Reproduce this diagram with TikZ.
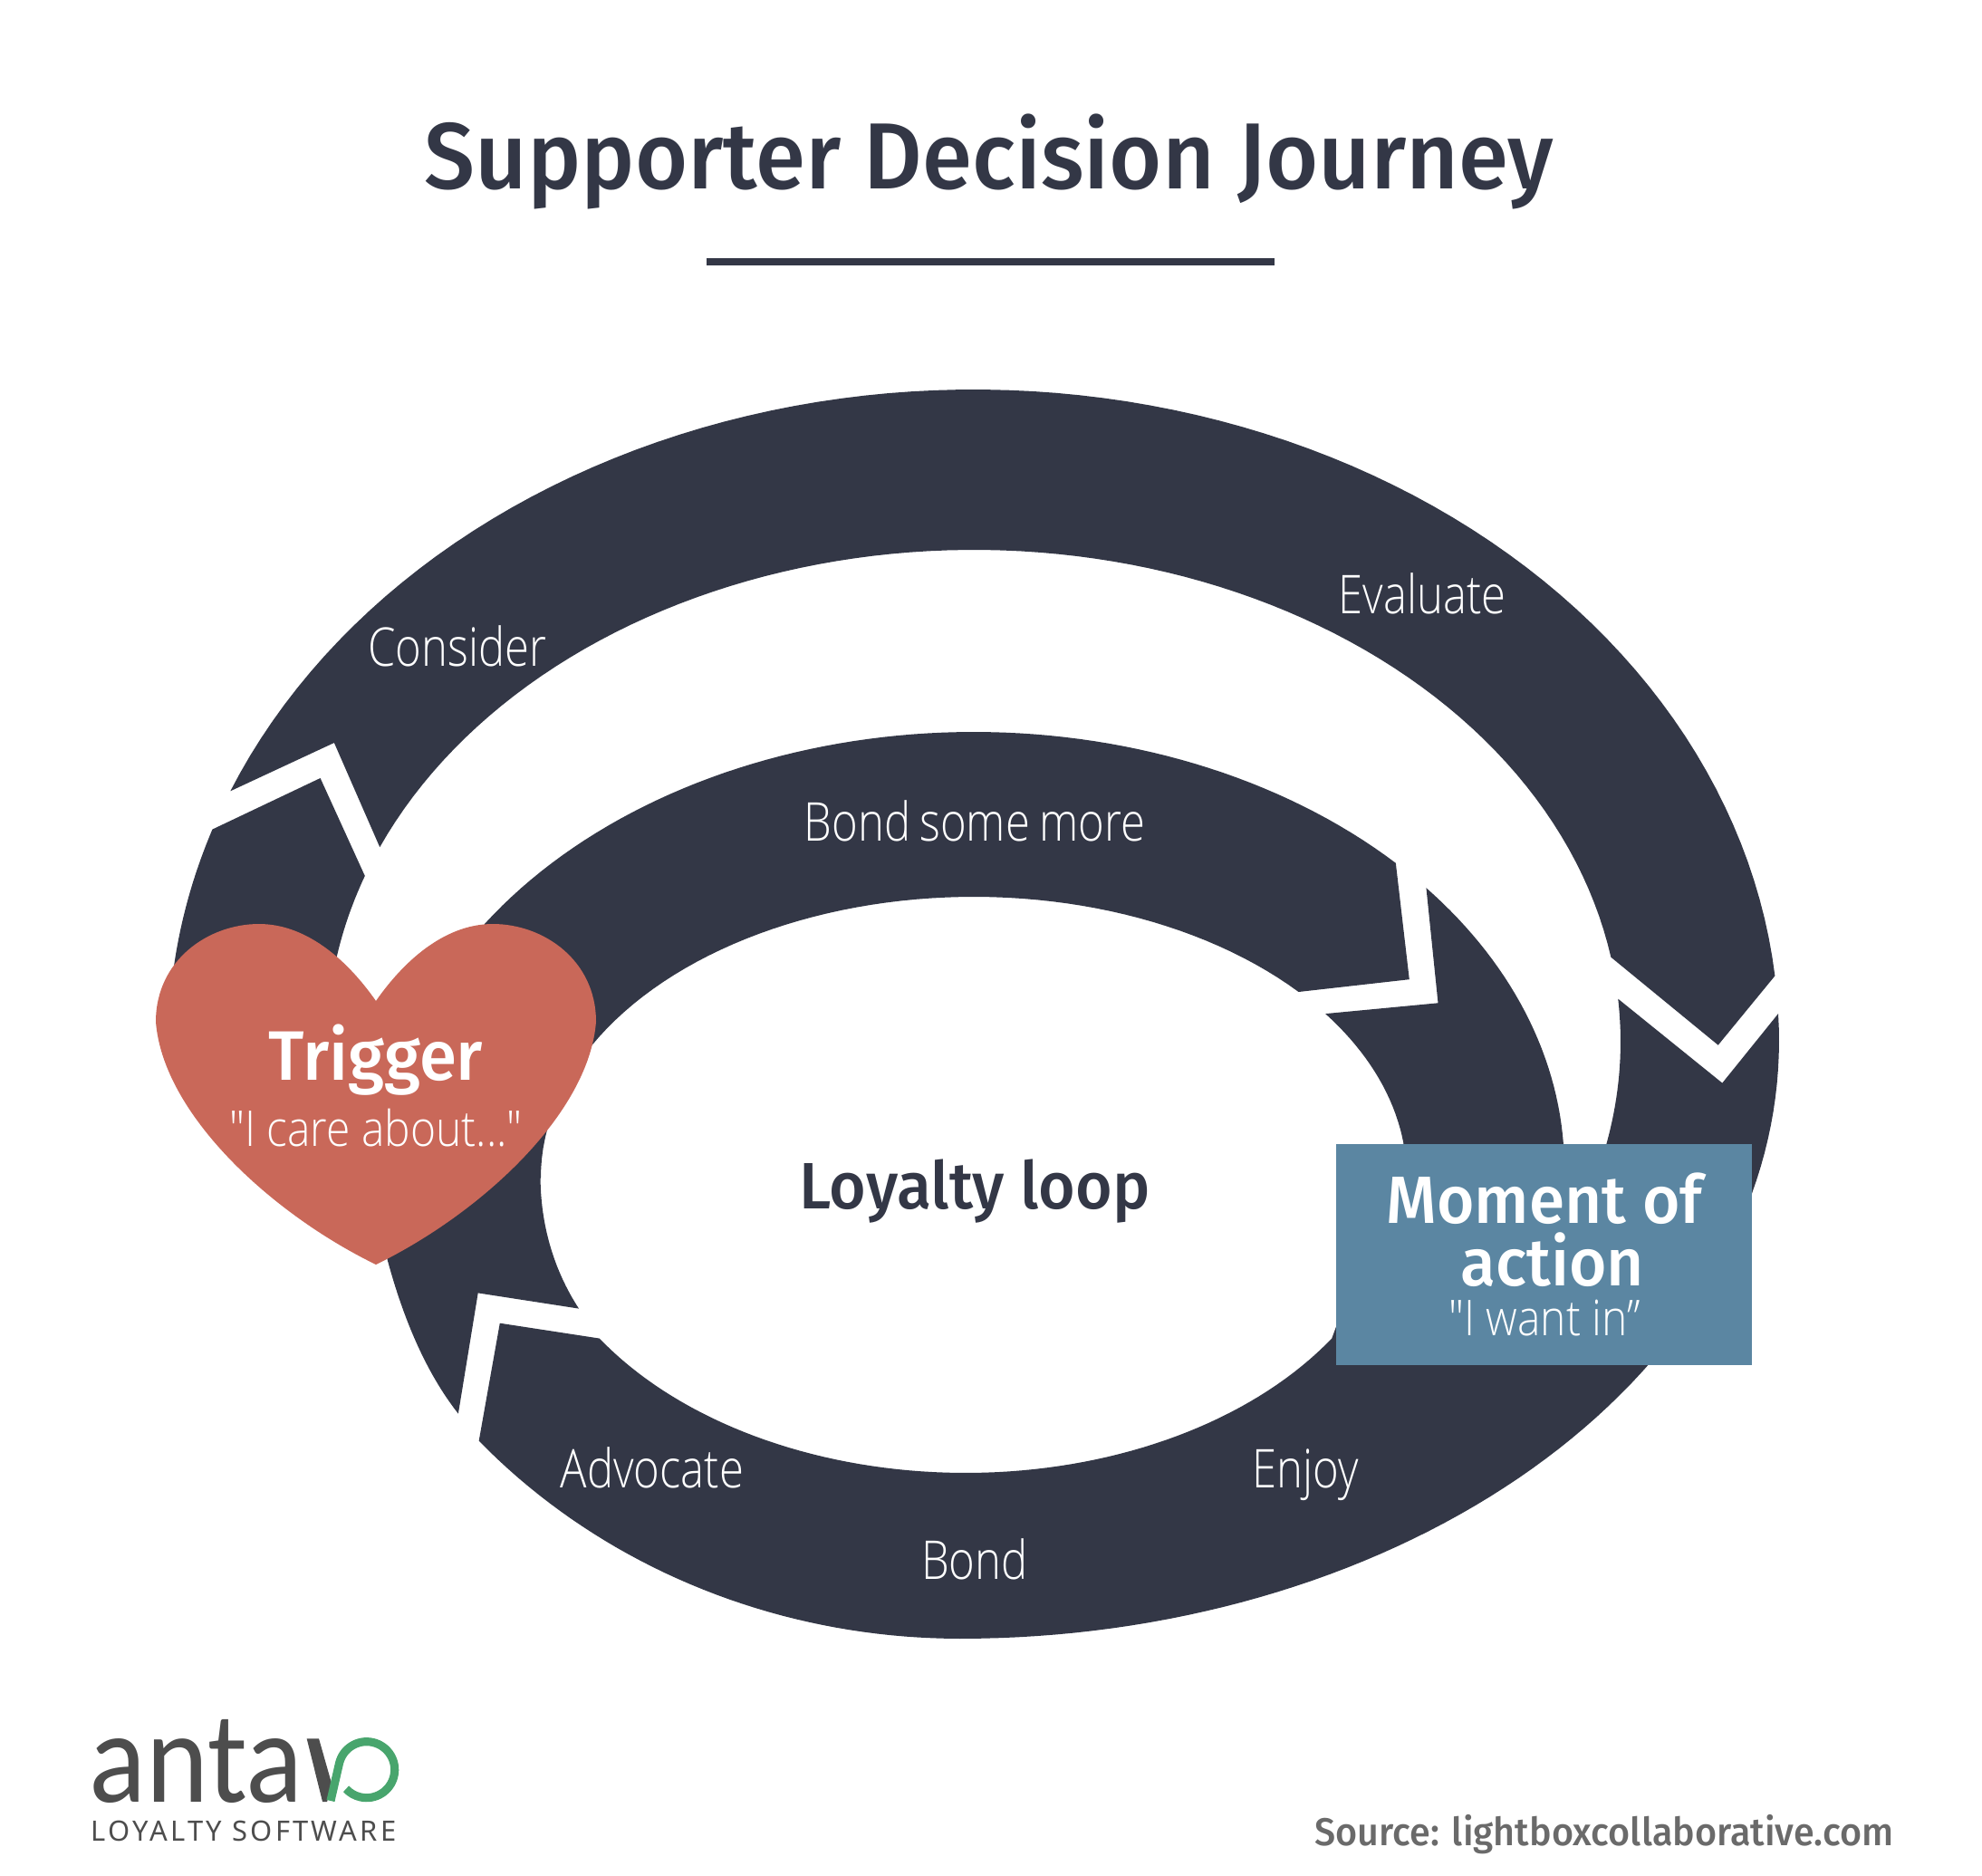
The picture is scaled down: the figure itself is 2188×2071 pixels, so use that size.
\documentclass[tikz,border=0pt]{standalone}
\usepackage{fontspec}
\setmainfont{Liberation Sans}
\newfontfamily\headfont[FakeStretch=0.963]{Fira Sans Medium}
\newfontfamily\condfont[FakeStretch=0.83,WordSpace=0.8]{Open Sans Light}
\newfontfamily\thinfont[FakeStretch=0.88]{Open Sans Light}
\newfontfamily\logofont[FakeStretch=0.91]{Carlito}
\newfontfamily\tagfont[LetterSpace=10.5]{Noto Sans}

\definecolor{bandcol}{HTML}{333746}
\definecolor{heartcol}{HTML}{C96859}
\definecolor{boxcol}{HTML}{5B86A2}
\definecolor{logogrey}{HTML}{4D4D4D}
\definecolor{logogreen}{HTML}{48A56D}
\definecolor{sourcegrey}{HTML}{6A6A6A}

\tikzset{
  band/.style={fill=bandcol},
  steplabel/.style={anchor=base,inner sep=0pt,text=white,font=\condfont\fontsize{16.8}{20}\selectfont},
  headlabel/.style={anchor=base,inner sep=0pt,text=white,font=\headfont\fontsize{21}{25}\selectfont},
  quotelabel/.style={anchor=base,inner sep=0pt,text=white,font=\thinfont\fontsize{15.5}{19}\selectfont},
}

\begin{document}
\begin{tikzpicture}[x=0.1mm,y=-0.1mm]
  \useasboundingbox (0,0) rectangle (2188,2071);

  % title
  \node[anchor=base,inner sep=0pt,text=bandcol,font=\headfont\fontsize{29.5}{34}\selectfont] (title) at (1092,209) {Supporter Decision Journey};
  \coordinate (ruleL) at (780,289);
  \coordinate (ruleR) at (1407,289);
  \draw[bandcol,line width=2.2pt] (ruleL) -- (ruleR);

  % upper band
  \fill[band] plot[domain=202.6:354.2,samples=90] ({1075+889*cos(\x)},{1150+720*sin(\x)})
    -- (1896.7,1153.7)
    -- plot[domain=350.1:203.3,samples=90] ({1075+714*cos(\x)},{1150+543*sin(\x)})
    -- (368.9,820) -- cycle;
  % piece left of the heart
  \fill[band] (353.6,859)
    -- plot[domain=199.7:187,samples=20] ({1075+714*cos(\x)},{1150+543*sin(\x)})
    -- (360,1100) -- (200,1100)
    -- plot[domain=183:199,samples=30] ({1075+889*cos(\x)},{1150+720*sin(\x)})
    -- cycle;
  % inner band
  \fill[band] (639,1444.6) .. controls (610,1400) and (597,1350) .. (596.6,1301)
    -- plot[domain=180:318.6,samples=70] ({1075+478*cos(\x)},{1300+310*sin(\x)})
    -- (1555.8,1081.2)
    -- plot[domain=315.6:214.1,samples=70] ({1075+652*cos(\x)},{1290+482*sin(\x)})
    -- (450,1200) -- (427.5,1390)
    .. controls (445,1455) and (470,1515) .. (505.9,1560.6)
    -- (527.7,1427.4) -- cycle;
  % lower band
  \fill[band] plot[domain=320:356.7,samples=30] ({1075+652*cos(\x)},{1290+482*sin(\x)})
    -- (1750,1380)
    -- plot[domain=12:-5,samples=20] ({1075+714*cos(\x)},{1150+543*sin(\x)})
    -- (1901.3,1195.6)
    -- plot[domain=-2.6:90,samples=70] ({1060+904*cos(\x)},{1149+660*sin(\x)})
    -- plot[domain=90:138,samples=40] ({1060+715*cos(\x)},{1149+660*sin(\x)})
    -- (551.8,1460.7)
    -- plot[domain=147:33,samples=70] ({1066+482*cos(\x)},{1300+326*sin(\x)})
    -- plot[domain=-7:-35.7,samples=20] ({1075+478*cos(\x)},{1300+310*sin(\x)})
    -- (1587.5,1107.3) -- cycle;

  % heart
  \fill[heartcol] (415,1105) .. controls (450,1055) and (495,1020) .. (544,1020)
    .. controls (600,1020) and (658,1060) .. (658,1128)
    .. controls (650,1230) and (530,1340) .. (415,1396)
    .. controls (300,1340) and (180,1230) .. (172,1128)
    .. controls (172,1060) and (230,1020) .. (286,1020)
    .. controls (335,1020) and (380,1055) .. (415,1105) -- cycle;
  \node[headlabel,font=\headfont\fontsize{22}{26}\selectfont] (trigger) at (415,1192) {Trigger};
  \node[quotelabel] (care) at (415,1265) {"I care about..."};

  % action box
  \node[fill=boxcol,inner sep=0pt,minimum width=45.9mm,minimum height=24.4mm,anchor=north west] (actionbox) at (1474,1262) {};
  \node[headlabel] (moment) at (1705,1350) {Moment of};
  \node[headlabel] (action) at (1714,1419.5) {action};
  \node[quotelabel] (want) at (1705,1474) {"I want in”};

  % band labels
  \node[steplabel] (consider) at (505,735) {Consider};
  \node[steplabel] (evaluate) at (1570,677) {Evaluate};
  \node[steplabel] (bondmore) at (1076,928) {Bond some more};
  \node[steplabel] (advocate) at (720,1642) {Advocate};
  \node[steplabel] (enjoy) at (1441,1642) {Enjoy};
  \node[steplabel] (bond) at (1076,1743) {Bond};
  \node[anchor=base,inner sep=0pt,text=bandcol,font=\headfont\fontsize{20.6}{25}\selectfont] (loop) at (1076,1334) {Loyalty loop};

  % logo
  \node[anchor=base west,inner sep=0pt,text=logogrey,font=\logofont\fontsize{41}{45}\selectfont] (anta) at (98,1989) {anta};
  \fill[logogrey] (338.7,1919.3) -- (352,1919.3) -- (367,1972) -- (361,1989) -- (356,1989) -- cycle;
  \draw[logogreen,line width=2.6pt] (365,1988) -- (374.5,1946.7) arc[start angle=193,end angle=497,radius=31];
  \node[anchor=base west,inner sep=0pt,text=logogrey,font=\tagfont\fontsize{8.8}{11}\selectfont] (software) at (100,2032) {LOYALTY SOFTWARE};

  % source
  \node[anchor=base east,inner sep=0pt,text=sourcegrey,font=\headfont\fontsize{12.2}{15}\selectfont] (source) at (2091,2037) {Source: lightboxcollaborative.com};
\end{tikzpicture}
\end{document}
